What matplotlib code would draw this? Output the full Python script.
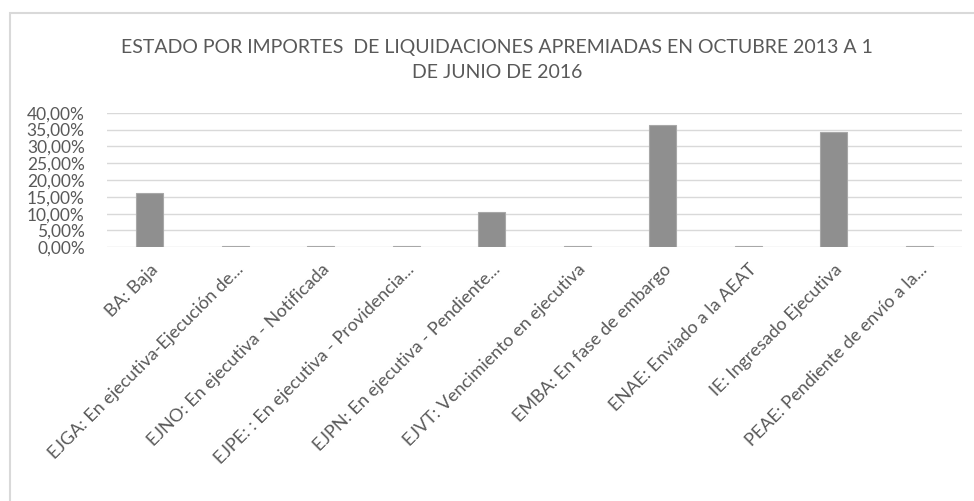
import matplotlib
matplotlib.use("Agg")
import matplotlib.pyplot as plt
from matplotlib.ticker import FuncFormatter, MultipleLocator
from matplotlib.patches import Rectangle

categories = [
    "BA: Baja",
    "EJGA: En ejecutiva-Ejecución de...",
    "EJNO: En ejecutiva - Notificada",
    "EJPE: : En ejecutiva - Providencia...",
    "EJPN: En ejecutiva - Pendiente...",
    "EJVT: Vencimiento en ejecutiva",
    "EMBA: En fase de embargo",
    "ENAE: Enviado a la AEAT",
    "IE: Ingresado Ejecutiva",
    "PEAE: Pendiente de envío a la...",
]
values = [0.162, 0.003, 0.003, 0.003, 0.104, 0.003, 0.364, 0.003, 0.343, 0.003]
title = "ESTADO POR IMPORTES  DE LIQUIDACIONES APREMIADAS EN OCTUBRE 2013 A 1\nDE JUNIO DE 2016"

TXT = "#595959"
plt.rcParams["font.family"] = ["Lato", "DejaVu Sans"]

fig = plt.figure(figsize=(9.74, 5.01), dpi=100)
W, H = 974, 501
ax = fig.add_axes([107 / W, 1 - 247.3 / H, (961.75 - 106.75) / W, (247.3 - 112.7) / H])

x = list(range(len(categories)))
ax.bar(x, values, width=0.316, color="#8f8f8f", edgecolor="#a8a8a8", linewidth=0.8, zorder=3)
ax.set_xlim(-0.5, len(categories) - 0.5)
ax.set_ylim(0, 0.40)
ax.yaxis.set_major_locator(MultipleLocator(0.05))
ax.yaxis.set_major_formatter(FuncFormatter(lambda v, p: f"{v*100:.2f}%".replace(".", ",")))
ax.grid(axis="y", color="#d9d9d9", linewidth=1.0, zorder=0)
for s in ax.spines.values():
    s.set_visible(False)
ax.tick_params(axis="both", length=0, colors=TXT)
ax.tick_params(axis="y", labelsize=12.5, pad=16)
ax.set_xticks(x)
ax.set_xticklabels(categories, rotation=45, ha="right", va="top",
                   rotation_mode="anchor", fontsize=13, color=TXT)
ax.tick_params(axis="x", pad=10)
for lab in ax.get_yticklabels():
    lab.set_color(TXT)

fig.text(497 / W, 1 - 60 / H, title, ha="center", va="center", fontsize=14,
         color=TXT, linespacing=1.55)

fig.patches.append(Rectangle((10 / W, -0.1), 1.2, 1 - 13 / H + 0.1, transform=fig.transFigure,
                             fill=False, edgecolor="#d9d9d9", linewidth=1.5))

fig.savefig("out.png", dpi=100, facecolor="white")
